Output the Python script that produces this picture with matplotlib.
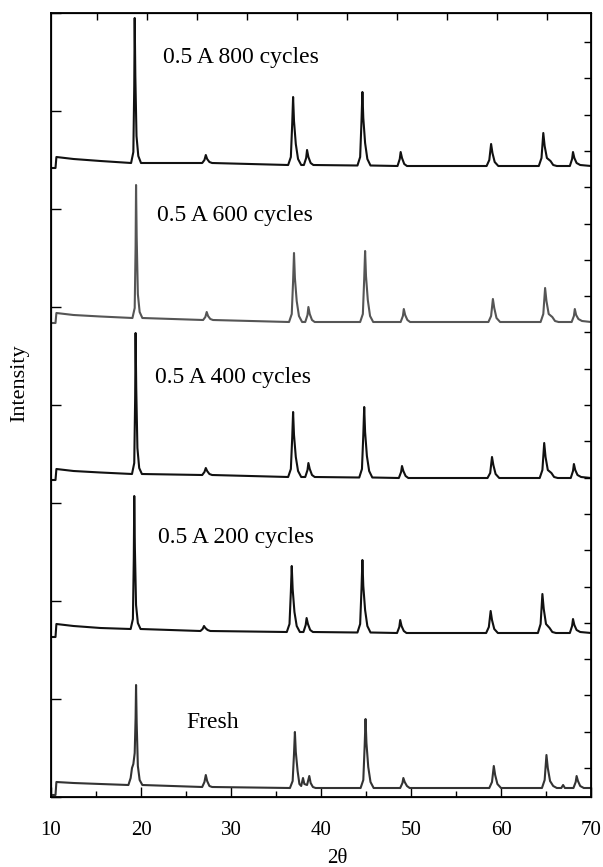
import numpy as np
import matplotlib
matplotlib.use('Agg')
import matplotlib.pyplot as plt

plt.rcParams['font.family'] = ['Liberation Serif', 'DejaVu Serif']

# (2theta, intensity) vertices, intensity relative to each trace's baseline
pattern_800 = [(10.2, -2), (10.5, -2), (10.6, 9), (12.5, 7), (15.5, 5),
               (18.9, 3), (19.15, 14), (19.25, 80), (19.3, 148), (19.37, 90), (19.5, 30), (19.7, 10), (20.0, 3),
               (26.8, 3), (27.05, 6), (27.2, 11), (27.35, 7), (27.6, 4), (27.9, 3),
               (36.35, 1), (36.65, 9), (36.8, 42), (36.9, 69), (37.0, 45), (37.2, 22), (37.45, 7), (37.8, 1),
               (38.1, 1), (38.35, 8), (38.45, 16), (38.6, 9), (38.85, 3), (39.15, 1),
               (44.05, 0.5), (44.35, 9), (44.5, 45), (44.6, 74), (44.7, 48), (44.9, 23), (45.15, 7), (45.5, 0.5),
               (48.5, 0), (48.75, 7), (48.85, 14), (49.0, 8), (49.25, 2), (49.55, 0),
               (58.4, 0), (58.7, 6), (58.9, 22), (59.05, 13), (59.3, 4), (59.7, 0),
               (64.2, 0), (64.5, 8), (64.7, 33), (64.85, 20), (65.1, 8), (65.5, 5), (65.8, 1), (66.2, 0),
               (67.65, 0), (67.9, 7), (68.0, 14), (68.15, 8), (68.4, 3), (68.8, 1), (70, 0)]

pattern_600 = [(10.2, -1), (10.5, -1), (10.6, 9), (12.5, 7), (15.5, 5.5),
               (19.05, 4), (19.3, 14), (19.4, 75), (19.45, 137), (19.52, 85), (19.65, 28), (19.85, 10), (20.15, 4),
               (26.9, 2), (27.15, 5), (27.3, 10), (27.45, 6), (27.7, 3), (28.0, 2),
               (36.45, 0), (36.75, 8), (36.9, 41), (37.0, 69), (37.1, 44), (37.3, 21), (37.55, 6), (37.9, 0),
               (38.25, 0), (38.5, 7), (38.6, 15), (38.75, 8), (39.0, 2), (39.3, 0),
               (44.35, 0), (44.65, 8), (44.8, 43), (44.9, 71), (45.0, 46), (45.2, 22), (45.45, 6), (45.8, 0),
               (48.85, 0), (49.1, 6), (49.2, 13), (49.35, 7), (49.6, 2), (49.9, 0),
               (58.6, 0), (58.9, 6), (59.1, 23), (59.25, 14), (59.5, 4), (59.9, 0),
               (64.4, 0), (64.7, 8), (64.9, 34), (65.05, 21), (65.3, 8), (65.7, 5), (66.0, 1), (66.4, 0),
               (67.85, 0), (68.1, 6), (68.2, 13), (68.35, 7), (68.6, 3), (69.0, 1), (70, 0)]

pattern_400 = [(10.2, -2), (10.5, -2), (10.6, 9), (12.5, 7), (15.5, 5.5),
               (19.0, 4), (19.25, 15), (19.35, 80), (19.4, 145), (19.47, 90), (19.6, 30), (19.8, 10), (20.1, 4),
               (26.8, 3), (27.05, 6), (27.2, 10), (27.35, 7), (27.6, 4), (27.9, 3),
               (36.35, 1), (36.65, 9), (36.8, 40), (36.9, 66), (37.0, 43), (37.2, 21), (37.45, 7), (37.8, 1),
               (38.25, 1), (38.5, 8), (38.6, 15), (38.75, 9), (39.0, 3), (39.3, 1),
               (44.25, 0.5), (44.55, 9), (44.7, 43), (44.8, 71), (44.9, 46), (45.1, 22), (45.35, 7), (45.7, 0.5),
               (48.65, 0), (48.9, 6), (49.0, 12), (49.15, 7), (49.4, 2), (49.7, 0),
               (58.5, 0), (58.8, 5), (59.0, 21), (59.15, 13), (59.4, 4), (59.8, 0),
               (64.3, 0), (64.6, 8), (64.8, 35), (64.95, 21), (65.2, 8), (65.6, 5), (65.9, 1), (66.3, 0),
               (67.75, 0), (68.0, 7), (68.1, 14), (68.25, 8), (68.5, 3), (68.9, 1), (70, 0)]

pattern_200 = [(10.2, -4), (10.5, -4), (10.6, 9), (12.5, 7), (15.5, 5),
               (18.85, 4), (19.1, 14), (19.2, 75), (19.25, 137), (19.32, 85), (19.45, 28), (19.65, 10), (19.95, 4),
               (26.6, 2), (26.85, 4), (27.0, 7), (27.15, 5), (27.4, 3), (27.7, 2),
               (36.2, 1), (36.5, 9), (36.65, 41), (36.75, 67), (36.85, 44), (37.05, 21), (37.3, 7), (37.65, 1),
               (38.05, 1), (38.3, 8), (38.4, 15), (38.55, 9), (38.8, 3), (39.1, 1),
               (44.05, 0.5), (44.35, 9), (44.5, 44), (44.6, 73), (44.7, 47), (44.9, 23), (45.15, 7), (45.5, 0.5),
               (48.45, 0), (48.7, 6), (48.8, 13), (48.95, 7), (49.2, 2), (49.5, 0),
               (58.35, 0), (58.65, 6), (58.85, 22), (59.0, 13), (59.25, 4), (59.65, 0),
               (64.1, 0), (64.4, 9), (64.6, 39), (64.75, 24), (65.0, 9), (65.4, 5), (65.7, 1), (66.1, 0),
               (67.65, 0), (67.9, 7), (68.0, 14), (68.15, 8), (68.4, 3), (68.8, 1), (70, 0)]

pattern_fresh = [(10.2, -7), (10.5, -7), (10.6, 6), (12.5, 5), (15.5, 4),
                 (18.6, 3), (18.85, 10), (19.0, 20), (19.15, 24), (19.3, 35), (19.4, 70), (19.45, 103),
                 (19.52, 65), (19.65, 22), (19.85, 8), (20.15, 3),
                 (26.8, 1), (27.05, 6), (27.2, 13), (27.35, 7), (27.6, 2), (27.9, 1),
                 (36.55, 0), (36.85, 7), (37.0, 34), (37.1, 56), (37.2, 36), (37.4, 17), (37.6, 4),
                 (37.8, 2), (38.0, 10), (38.15, 4), (38.45, 3), (38.7, 12), (38.85, 5), (39.1, 1), (39.4, 0),
                 (44.4, 0), (44.7, 8), (44.85, 42), (44.95, 69), (45.05, 45), (45.25, 21), (45.5, 6), (45.85, 0),
                 (48.8, 0), (49.05, 5), (49.15, 10), (49.3, 6), (49.55, 2), (49.85, 0),
                 (58.7, 0), (59.0, 6), (59.2, 22), (59.35, 13), (59.6, 4), (60.0, 0),
                 (64.55, 0), (64.85, 8), (65.05, 33), (65.2, 20), (65.45, 7), (65.8, 2), (66.2, 0),
                 (66.7, 0), (66.9, 3), (67.1, 0),
                 (68.05, 0), (68.3, 6), (68.4, 12), (68.55, 7), (68.8, 2), (69.2, 0), (70, 0)]

labels = ['0.5 A 800 cycles', '0.5 A 600 cycles', '0.5 A 400 cycles', '0.5 A 200 cycles', 'Fresh']
patterns = [pattern_800, pattern_600, pattern_400, pattern_200, pattern_fresh]
offsets = [631, 475, 319, 164, 9]
colors = ['#111111', '#555555', '#111111', '#111111', '#333333']
# label anchor (2theta of left edge, height)
label_pos = [(22.4, 739), (21.8, 582), (21.6, 420), (21.9, 259), (25.0, 74)]

fig = plt.figure(figsize=(6.03, 8.67), dpi=100)
ax = fig.add_axes([51 / 603, 70 / 867, 540 / 603, 784 / 867])

for pat, off, c in zip(patterns, offsets, colors):
    tt, ii = np.array(pat).T
    ax.plot(tt, ii + off, color=c, lw=1.5)

for lab, (lx, ly) in zip(labels, label_pos):
    ax.text(lx, ly, lab, fontsize=17, ha='left', va='center')

ax.set_xlim(10, 70)
ax.set_ylim(0, 784)
ax.set_xticks(np.arange(10, 71, 10))
ax.set_xticks(np.arange(15, 70, 10), minor=True)
ax.set_yticks(np.arange(0, 785, 98))
ax.set_yticklabels([])
ax.tick_params(axis='x', which='major', direction='in', length=7, width=1, labelsize=15, pad=17)
ax.tick_params(axis='x', which='minor', direction='in', length=4, width=1)
ax.tick_params(axis='y', direction='in', length=7, width=1)
ax.set_xlabel('2θ', fontsize=15)
ax.xaxis.label.set_va('center')
ax.xaxis.set_label_coords(0.53, -0.078)
ax.set_ylabel('Intensity', fontsize=16)
ax.yaxis.label.set_va('center')
ax.yaxis.set_label_coords(-0.057, 0.528)
for s in ax.spines.values():
    s.set_linewidth(1.3)

# extra tick sets on the top and right edges
ax_top = ax.twiny()
ax_top.set_xlim(10, 70)
ax_top.set_xticks(10 + (np.arange(46, 540, 50)) / 9)
ax_top.set_xticklabels([])
ax_top.tick_params(direction='in', length=5, width=1)

ax_r = ax.twinx()
ax_r.set_ylim(0, 784)
ax_r.set_yticks(29 + 36.3 * np.arange(21))
ax_r.set_yticklabels([])
ax_r.tick_params(direction='in', length=5, width=1)

fig.savefig('out.png', dpi=100)
